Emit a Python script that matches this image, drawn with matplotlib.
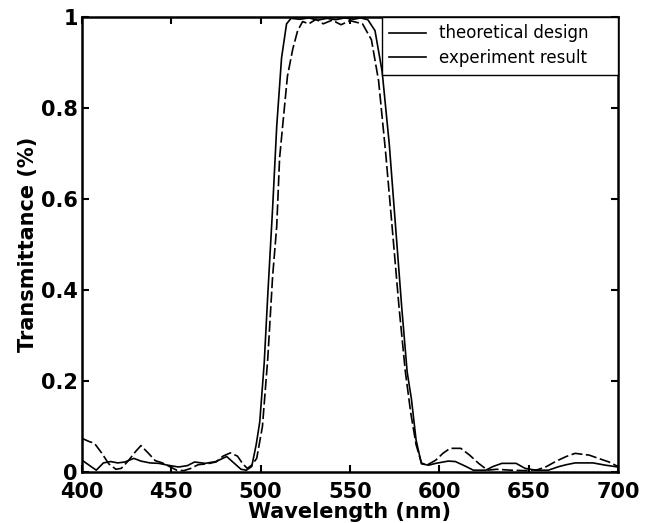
#!/usr/bin/env python3
"""
Transmittance of the band-pass filter: theoretical design vs. measured result.
Writes out.png (648x523 px).
"""

import matplotlib
matplotlib.use("Agg")
import matplotlib.pyplot as plt
from matplotlib.lines import Line2D

# theoretical design (solid)
theory_nm = [400, 404, 408, 412, 416, 420, 424, 429, 433, 438, 443, 448, 454,
             459, 463, 469, 475, 481, 485, 489, 492, 495, 497.5, 499.5, 502,
             504, 506.7, 509, 511.7, 514.5, 517, 522, 527, 532, 537, 542, 547,
             552, 556, 560, 564, 568, 572, 575.5, 579, 582, 584.4, 587, 590, 594,
             598, 605, 609, 615, 619, 626, 630, 635, 643, 648, 654, 661, 667,
             671, 676, 686, 693, 700]
theory_T = [0.026, 0.015, 0.004, 0.020, 0.023, 0.020, 0.022, 0.030, 0.024,
            0.020, 0.019, 0.015, 0.011, 0.014, 0.022, 0.019, 0.023, 0.034,
            0.020, 0.006, 0.004, 0.012, 0.060, 0.110, 0.240, 0.390, 0.580,
            0.760, 0.910, 0.985, 0.997, 0.995, 0.998, 0.993, 0.997, 0.994,
            0.998, 0.995, 0.998, 0.994, 0.970, 0.880, 0.720, 0.540, 0.360,
            0.220, 0.160, 0.070, 0.018, 0.015, 0.019, 0.024, 0.023, 0.012,
            0.004, 0.004, 0.012, 0.019, 0.019, 0.008, 0.004, 0.004, 0.012,
            0.016, 0.020, 0.020, 0.015, 0.011]

# experiment result (broken line)
exp_nm = [400, 404, 407, 411, 415, 419, 422, 426, 430, 433, 437, 441, 445, 449,
          453, 457, 461, 465, 470, 475, 479, 483, 487, 490, 492.5, 495, 497.8,
          501, 504, 506.7, 509, 510.6, 512.3, 515, 518, 520.7, 523.5, 527, 531,
          535, 540, 545, 550, 554, 557, 562, 566, 570, 574, 577.5, 581, 584,
          587, 590, 593, 598, 602, 606, 612, 617, 622, 627, 632, 640, 648, 655,
          660, 665, 671, 676, 684, 689, 695, 700]
exp_T = [0.074, 0.067, 0.063, 0.042, 0.018, 0.006, 0.008, 0.025, 0.045, 0.058,
         0.042, 0.025, 0.020, 0.012, 0.004, 0.003, 0.008, 0.016, 0.018, 0.022,
         0.035, 0.042, 0.035, 0.018, 0.008, 0.015, 0.030, 0.100, 0.250, 0.430,
         0.540, 0.690, 0.760, 0.870, 0.930, 0.970, 0.990, 0.985, 0.995, 0.985,
         0.993, 0.983, 0.992, 0.988, 0.985, 0.950, 0.860, 0.700, 0.520, 0.360,
         0.220, 0.130, 0.060, 0.020, 0.015, 0.026, 0.041, 0.052, 0.052,
         0.037, 0.019, 0.004, 0.006, 0.004, 0.003, 0.005, 0.012, 0.023, 0.034,
         0.041, 0.037, 0.030, 0.022, 0.012]

x_ticks = [400, 450, 500, 550, 600, 650, 700]
y_ticks = [0, 0.2, 0.4, 0.6, 0.8, 1]
y_tick_labels = ["0", "0.2", "0.4", "0.6", "0.8", "1"]
legend_labels = ["theoretical design", "experiment result"]


def main() -> None:
    plt.rcParams["font.family"] = "DejaVu Sans"
    plt.rcParams["lines.scale_dashes"] = False

    fig = plt.figure(figsize=(6.48, 5.23), dpi=100)
    ax = fig.add_axes([0.1265, 0.0975, 0.8272, 0.87])

    ax.plot(theory_nm, theory_T, color="black", lw=1.2)
    ax.plot(exp_nm, exp_T, color="black", lw=1.2, dashes=(8, 2.5))

    ax.set_xlim(400, 700)
    ax.set_ylim(0, 1)
    ax.set_xticks(x_ticks)
    ax.set_xticklabels([str(v) for v in x_ticks])
    ax.set_yticks(y_ticks)
    ax.set_yticklabels(y_tick_labels)

    ax.tick_params(direction="in", length=5, width=1.5, top=True, right=True,
                   labelsize=15)
    ax.tick_params(axis="x", pad=7)
    ax.tick_params(axis="y", pad=3)
    for lab in ax.get_xticklabels() + ax.get_yticklabels():
        lab.set_fontweight("bold")
    for sp in ax.spines.values():
        sp.set_linewidth(1.8)

    ax.set_xlabel("Wavelength (nm)", fontsize=15, fontweight="bold", labelpad=0)
    ax.set_ylabel("Transmittance (%)", fontsize=15, fontweight="bold", labelpad=2)

    # MATLAB-style legend: plain box in the top-right corner, entries solid
    handles = [Line2D([], [], color="black", lw=1.2) for _ in legend_labels]
    leg = ax.legend(handles, legend_labels, loc="upper right",
                    bbox_to_anchor=(0.5597, 0, 0.4403, 1), mode="expand",
                    borderaxespad=0, fontsize=12, handlelength=2.2,
                    handletextpad=0.75, labelspacing=0.4, borderpad=0.45,
                    fancybox=False, framealpha=1)
    leg.get_frame().set_edgecolor("black")
    leg.get_frame().set_linewidth(1.0)

    fig.savefig("out.png", dpi=100)


if __name__ == "__main__":
    main()
